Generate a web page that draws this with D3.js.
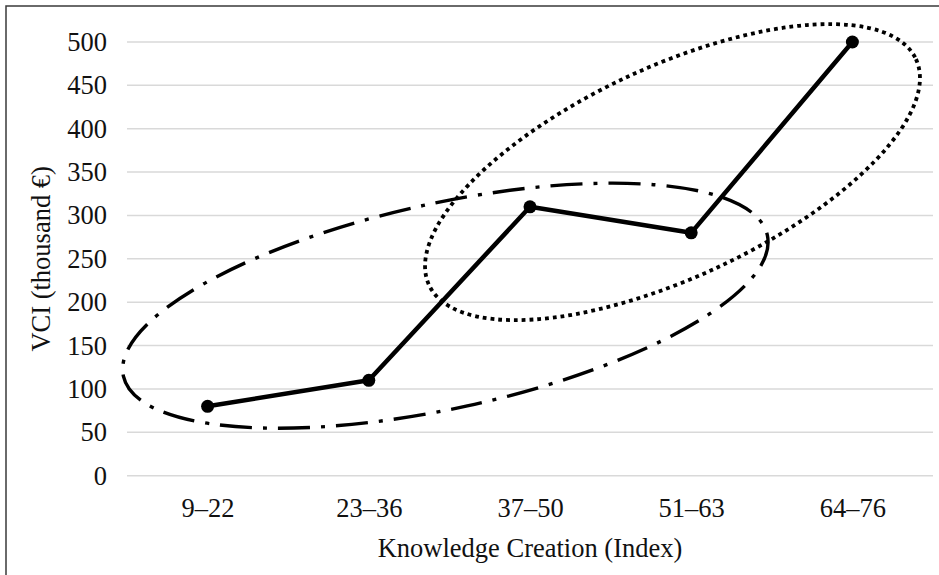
<!DOCTYPE html>
<html><head><meta charset="utf-8">
<script src="https://cdn.jsdelivr.net/npm/d3@7"></script>
<style>body{margin:0;background:#fff}svg{display:block}
svg text{font-family:"Liberation Serif","Tinos","DejaVu Serif","Noto Serif",serif !important;}</style>
</head><body>
<script>
const categories = ["9\u201322","23\u201336","37\u201350","51\u201363","64\u201376"];
const values = [80, 110, 310, 280, 500];
const yTicks = [0,50,100,150,200,250,300,350,400,450,500];
const xTitle = "Knowledge Creation (Index)";
const yTitle = "VCI (thousand \u20ac)";
// annotation ellipses: centre in data units (category index, value)
const ellipseCentreIdx = [1.475, 2.884];
const ellipseCentreVal = [196, 350];

const W = 939, H = 575;
const L = 127, R = 933, T = 42, B = 475.7;
const FS = 26.5;
const svg = d3.select("body").append("svg").attr("width", W).attr("height", H);

svg.append("rect").attr("x",6).attr("y",6).attr("width",1200).attr("height",1200)
  .attr("fill","none").attr("stroke","#3a3a3a").attr("stroke-width",1.5);

const x = d3.scalePoint().domain(categories).range([L, R]).padding(0.5);
const y = d3.scaleLinear().domain([0, 500]).range([B, T]);
const xi = d3.scaleLinear().domain([0, 1]).range([x(categories[0]), x(categories[1])]);

// gridlines
svg.append("g").selectAll("line").data(yTicks).join("line")
  .attr("x1", L).attr("x2", R).attr("y1", d => y(d)).attr("y2", d => y(d))
  .attr("stroke", "#d9d9d9").attr("stroke-width", 1.5);

// y axis labels
const yAxis = svg.append("g").attr("transform", `translate(${L},0)`)
  .call(d3.axisLeft(y).tickValues(yTicks).tickSize(0).tickPadding(20));
yAxis.select(".domain").remove();
yAxis.selectAll("text").attr("font-size", FS).attr("fill", "#111");

// x axis labels
const xAxis = svg.append("g").attr("transform", `translate(0,${B})`)
  .call(d3.axisBottom(x).tickSize(0).tickPadding(22));
xAxis.select(".domain").remove();
xAxis.selectAll("text").attr("font-size", FS).attr("fill", "#111");

// titles
svg.append("text").attr("x", (L + R) / 2).attr("y", 557).attr("text-anchor", "middle")
  .attr("font-size", FS).attr("fill", "#111").text(xTitle);
svg.append("text").attr("transform", `translate(50,${(T + B) / 2}) rotate(-90)`)
  .attr("text-anchor", "middle").attr("font-size", FS)
  .attr("fill", "#111").text(yTitle);

// ellipses
const ellipseStyles = [
  {rx: 329.6, ry: 102.6, rot: -12.35, dash: "32,11,4,11", width: 3.4},
  {rx: 268.4, ry: 105.4, rot: -24.9, dash: "3.8,4", width: 3.8}
];
ellipseStyles.forEach((s, i) => {
  const cx = xi(ellipseCentreIdx[i]), cy = y(ellipseCentreVal[i]);
  svg.append("ellipse").attr("cx", 0).attr("cy", 0).attr("rx", s.rx).attr("ry", s.ry)
    .attr("transform", `translate(${cx},${cy}) rotate(${s.rot})`)
    .attr("fill", "none").attr("stroke", "#000").attr("stroke-width", s.width)
    .attr("stroke-dasharray", s.dash);
});

// line
svg.append("path").datum(values)
  .attr("d", d3.line().x((d, i) => x(categories[i])).y(d => y(d)))
  .attr("fill", "none").attr("stroke", "#000").attr("stroke-width", 4.5)
  .attr("stroke-linejoin", "round");
svg.append("g").selectAll("circle").data(values).join("circle")
  .attr("cx", (d, i) => x(categories[i])).attr("cy", d => y(d)).attr("r", 6.5)
  .attr("fill", "#000");
</script>
</body></html>
